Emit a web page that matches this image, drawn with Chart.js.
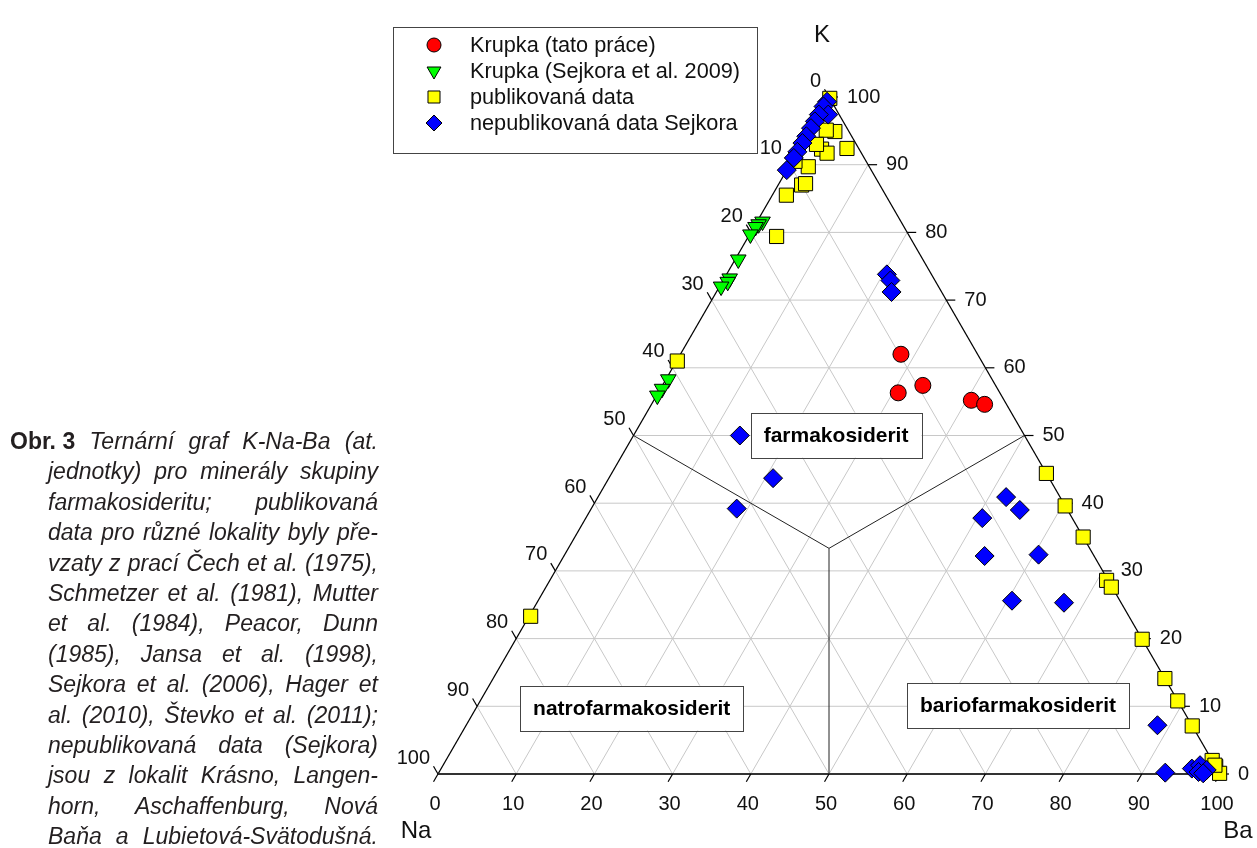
<!DOCTYPE html>
<html>
<head>
<meta charset="utf-8">
<script src="https://cdn.jsdelivr.net/npm/chart.js@4.4.1/dist/chart.umd.min.js"></script>
<style>
body { margin:0; background:#fff; overflow:hidden; font-family:"Liberation Sans", Arial, sans-serif; }
#chart { position:absolute; left:0; top:0; }
#caption { position:absolute; left:10px; top:426px; width:368px; font-size:23px; line-height:30.4px; color:#231f20; }
#caption .ln { display:flex; justify-content:space-between; white-space:nowrap; padding-left:38px; font-style:italic; }
#caption .ln.first { padding-left:0; }
#caption b { font-style:normal; }
</style>
</head>
<body>
<canvas id="chart" width="1257" height="848"></canvas>
<div id="caption"></div>
<script>
// K-Na-Ba ternary data (at. %)
var krupkaK  = [62.0, 57.4, 56.3, 55.2, 54.6]
var krupkaNa = [9.8, 9.3, 13.0, 4.2, 2.8]
var krupkaBa = [28.2, 33.3, 30.7, 40.6, 42.6]

var sejkora09K  = [81.6, 81.2, 80.8, 79.7, 76.0, 73.2, 72.7, 72.0, 58.3, 56.9, 55.9]
var sejkora09Na = [17.7, 18.4, 19.0, 20.2, 23.6, 26.1, 26.6, 27.8, 41.4, 42.9, 44.0]
var sejkora09Ba = [0.7, 0.4, 0.2, 0.1, 0.4, 0.7, 0.7, 0.2, 0.3, 0.2, 0.1]

var publK  = [99.8, 94.9, 95.1, 92.4, 92.3, 91.7, 93.0, 89.7, 87.0, 87.2, 85.5, 90.5, 79.4, 61.0, 23.3,
              44.4, 39.6, 35.0, 28.6, 27.6, 19.9, 14.1, 10.8, 7.1, 2.0, 1.1, 0.1, 1.3]
var publNa = [0.0, 1.8, 2.8, 1.5, 4.8, 4.4, 5.1, 7.8, 10.0, 9.4, 12.7, 9.1, 17.0, 38.9, 76.5,
              0.0, 0.0, 0.0, 0.2, 0.1, 0.0, 0.0, 0.0, 0.0, 0.0, 0.0, 0.0, 0.0]
var publBa = [0.2, 3.3, 2.1, 6.1, 2.9, 3.9, 1.9, 2.5, 3.0, 3.4, 1.8, 0.4, 3.6, 0.1, 0.2,
              55.6, 60.4, 65.0, 71.2, 72.3, 80.1, 85.9, 89.2, 92.9, 98.0, 98.9, 99.9, 98.7]

var nepublK  = [99.3, 98.6, 97.4, 97.4, 96.4, 95.4, 94.2, 93.2, 91.9, 91.0, 89.2, 73.8, 72.9, 71.2, 50.0, 43.7,
                39.2, 40.9, 39.0, 37.8, 32.2, 32.4, 25.6, 25.3, 7.2, 0.2, 0.8, 1.3, 0.3, 0.6, 0.1]
var nepublNa = [0.6, 1.4, 1.4, 2.6, 3.6, 4.6, 5.8, 6.8, 8.1, 9.0, 10.8, 5.7, 5.7, 6.4, 36.4, 35.3,
                42.2, 6.9, 6.1, 11.5, 14.0, 7.0, 13.8, 7.3, 4.4, 6.9, 3.2, 1.9, 2.6, 1.4, 2.1]
var nepublBa = [0.1, 0.0, 1.2, 0.0, 0.0, 0.0, 0.0, 0.0, 0.0, 0.0, 0.0, 20.5, 21.4, 22.4, 13.6, 21.0,
                18.6, 52.2, 54.9, 50.7, 53.8, 60.6, 60.6, 67.4, 88.4, 92.9, 96.0, 96.8, 97.1, 98.0, 97.8]

var seriesNames = ['Krupka (tato práce)', 'Krupka (Sejkora et al. 2009)', 'publikovaná data', 'nepublikovaná data Sejkora']
var gridSteps = [10, 20, 30, 40, 50, 60, 70, 80, 90]
var tickValues = [0, 10, 20, 30, 40, 50, 60, 70, 80, 90, 100]
var fieldNames = ['farmakosiderit', 'natrofarmakosiderit', 'bariofarmakosiderit']

var captionLines = [
    'Ternární graf K-Na-Ba (at.',
    'jednotky) pro minerály skupiny',
    'farmakosideritu; publikovaná',
    'data pro různé lokality byly pře-',
    'vzaty z prací Čech et al. (1975),',
    'Schmetzer et al. (1981), Mutter',
    'et al. (1984), Peacor, Dunn',
    '(1985), Jansa et al. (1998),',
    'Sejkora et al. (2006), Hager et',
    'al. (2010), Števko et al. (2011);',
    'nepublikovaná data (Sejkora)',
    'jsou z lokalit Krásno, Langen-',
    'horn, Aschaffenburg, Nová',
    'Baňa a Lubietová-Svätodušná.'
]

var H = 50 * Math.sqrt(3)   // triangle height in x units

// ternary -> cartesian (Na left, Ba right, K top)
function tern(k, na, ba) {
    var s = k + na + ba
    return { x: (ba + k / 2) / s * 100, y: (k / s) * H }
}
function toPoints(K, Na, Ba) {
    return K.map(function (k, i) { return tern(k, Na[i], Ba[i]) })
}
function pix(chart, k, ba) {
    var p = tern(k, 100 - k - ba, ba)
    return [chart.scales.x.getPixelForValue(p.x), chart.scales.y.getPixelForValue(p.y)]
}

// caption
var cap = document.getElementById('caption')
captionLines.forEach(function (line, i) {
    var div = document.createElement('div')
    div.className = 'ln' + (i == 0 ? ' first' : '')
    var words = line.split(' ')
    if (i == 0) words = ['<b>Obr.&nbsp;3</b>'].concat(words)
    div.innerHTML = words.map(function (w) { return '<span>' + w + '</span>' }).join('')
    cap.appendChild(div)
})

var FONT = '"Liberation Sans", Arial, sans-serif'

function line(ctx, a, b) {
    ctx.beginPath(); ctx.moveTo(a[0], a[1]); ctx.lineTo(b[0], b[1]); ctx.stroke()
}

var ternaryFrame = {
    id: 'ternaryFrame',
    beforeDatasetsDraw: function (chart) {
        var ctx = chart.ctx
        ctx.save()
        // grid
        ctx.strokeStyle = '#c8c8c8'
        ctx.lineWidth = 1
        gridSteps.forEach(function (v) {
            line(ctx, pix(chart, v, 0), pix(chart, v, 100 - v))        // K const
            line(ctx, pix(chart, 0, v), pix(chart, 100 - v, v))        // Ba const
            line(ctx, pix(chart, 100 - v, 0), pix(chart, 0, 100 - v))  // Na const
        })
        // field boundaries
        ctx.strokeStyle = '#222'
        var c = pix(chart, 100 / 3, 100 / 3)
        line(ctx, pix(chart, 50, 0), c)
        line(ctx, pix(chart, 50, 50), c)
        line(ctx, pix(chart, 0, 50), c)
        // outline
        var na = pix(chart, 0, 0), ba = pix(chart, 0, 100), k = pix(chart, 100, 0)
        ctx.strokeStyle = '#000'
        ctx.lineWidth = 1.3
        line(ctx, na, k)
        line(ctx, k, ba)
        ctx.strokeStyle = '#333'
        ctx.lineWidth = 2
        line(ctx, na, ba)

        // ticks + labels
        ctx.lineWidth = 1.2
        ctx.strokeStyle = '#000'
        ctx.fillStyle = '#111'
        ctx.font = '20px ' + FONT
        ctx.textBaseline = 'middle'
        tickValues.forEach(function (v) {
            // bottom: Ba
            var p = pix(chart, 0, v)
            line(ctx, p, [p[0] - 4.5, p[1] + 7.8])
            ctx.textAlign = 'center'
            ctx.fillText(String(v), p[0] - 3, p[1] + 30)
            // left: Na
            p = pix(chart, 100 - v, 0)
            line(ctx, p, [p[0] - 4.5, p[1] - 7.8])
            ctx.textAlign = 'right'
            ctx.fillText(String(v), p[0] - 8, p[1] - 16)
            // right: K
            p = pix(chart, v, 100 - v)
            line(ctx, p, [p[0] + 9, p[1]])
            ctx.textAlign = 'left'
            ctx.fillText(String(v), p[0] + 18, p[1])
        })

        // field name boxes
        var fieldPos = [[50.9, 43.35], [24.77, 8.44], [74.17, 8.76]]
        ctx.font = 'bold 21px ' + FONT
        ctx.textAlign = 'center'
        fieldNames.forEach(function (name, i) {
            var x = chart.scales.x.getPixelForValue(fieldPos[i][0])
            var y = chart.scales.y.getPixelForValue(fieldPos[i][1])
            var w = ctx.measureText(name).width + 26
            var h = 45
            ctx.fillStyle = '#fff'
            ctx.fillRect(x - w / 2, y - h / 2, w, h)
            ctx.strokeStyle = '#444'
            ctx.lineWidth = 1
            ctx.strokeRect(Math.round(x - w / 2) + 0.5, Math.round(y - h / 2) + 0.5, Math.round(w), h)
            ctx.fillStyle = '#000'
            ctx.fillText(name, x, y + 1)
        })

        // apex names
        ctx.font = '24px ' + FONT
        ctx.fillStyle = '#111'
        ctx.fillText('K', k[0] - 7, k[1] - 62)
        ctx.fillText('Na', na[0] - 22, na[1] + 57)
        ctx.fillText('Ba', ba[0] + 18, ba[1] + 57)
        ctx.restore()
    },
    afterDraw: function (chart) {
        // legend
        var ctx = chart.ctx
        ctx.save()
        ctx.fillStyle = '#fff'
        ctx.fillRect(393, 27, 364, 126)
        ctx.strokeStyle = '#444'
        ctx.lineWidth = 1
        ctx.strokeRect(393.5, 27.5, 364, 126)
        ctx.font = '21.7px ' + FONT
        ctx.textAlign = 'left'
        ctx.textBaseline = 'middle'
        var legendRadius = [7, 8, 8.5, 8]
        chart.data.datasets.forEach(function (ds, i) {
            var y = 45 + i * 26
            ctx.fillStyle = ds.backgroundColor
            ctx.strokeStyle = ds.borderColor
            ctx.lineWidth = 1
            Chart.helpers.drawPoint(ctx, {
                pointStyle: ds.pointStyle, radius: legendRadius[i],
                rotation: ds.rotation || 0, borderWidth: 1
            }, 434, y)
            ctx.fillStyle = '#111'
            ctx.fillText(seriesNames[i], 470, y + 1)
        })
        ctx.restore()
    }
}

var ctx = document.getElementById('chart').getContext('2d')
var config = {
    type: 'scatter',
    data: {
        datasets: [{
            label: seriesNames[0],
            data: toPoints(krupkaK, krupkaNa, krupkaBa),
            pointStyle: 'circle', pointRadius: 8,
            backgroundColor: '#ff0000', borderColor: '#000', borderWidth: 1,
            clip: false, order: 3
        }, {
            label: seriesNames[1],
            data: toPoints(sejkora09K, sejkora09Na, sejkora09Ba),
            pointStyle: 'triangle', pointRadius: 9, rotation: 180,
            backgroundColor: '#00ff00', borderColor: '#000', borderWidth: 1,
            clip: false, order: 2
        }, {
            label: seriesNames[2],
            data: toPoints(publK, publNa, publBa),
            pointStyle: 'rect', pointRadius: 10,
            backgroundColor: '#ffff00', borderColor: '#000', borderWidth: 1,
            clip: false, order: 1
        }, {
            label: seriesNames[3],
            data: toPoints(nepublK, nepublNa, nepublBa),
            pointStyle: 'rectRot', pointRadius: 9.5,
            backgroundColor: '#0000ff', borderColor: '#000', borderWidth: 1,
            clip: false, order: 0
        }]
    },
    options: {
        responsive: false,
        animation: false,
        devicePixelRatio: 1,
        layout: { padding: { left: 438, right: 37, top: 97, bottom: 74 } },
        scales: {
            x: { type: 'linear', min: 0, max: 100, display: false },
            y: { type: 'linear', min: 0, max: H, display: false }
        },
        plugins: { legend: { display: false }, tooltip: { enabled: false } },
        elements: { point: { hoverRadius: 8 } }
    },
    plugins: [ternaryFrame]
}

var mychart = new Chart(ctx, config)
</script>
</body>
</html>
